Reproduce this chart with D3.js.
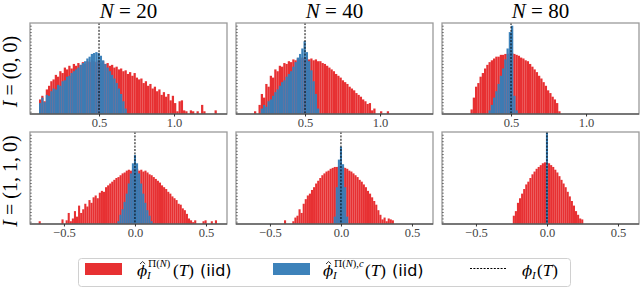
<!DOCTYPE html>
<html><head><meta charset="utf-8">
<script src="https://cdn.jsdelivr.net/npm/d3@7"></script>
<style>body{margin:0;background:#fff} svg{display:block}</style>
</head><body><svg id="c" width="640" height="288"></svg>
<script>
// ---------------- data ----------------
const columnTitles = ["20", "40", "80"];
const rowLabels = ["(0, 0)", "(1, 1, 0)"];
const topTicks = [0.5, 1.0];
const bottomTicks = [-0.5, 0.0, 0.5];
const trueValues = [0.5, 0.0];

// top row (I = (0,0)), bin width 0.015, heights in % of axis height
const topBinWidth = 0.015;
const redTopStart = [0.1, 0.16, 0.23];
const blueTopStart = [0.1, 0.19, 0.35];
const redTopN20 = [16,20,14,27,31,36,38,43,41,47,45,51,49,53,50,55,53,56,54,57,55,58,57,59,58,57,59,56,58,55,56,53,54,51,52,49,50,47,48,44,46,42,45,40,38,39,34,36,31,33,28,30,25,27,21,24,19,22,15,20,12,3,14,15,4,3,0,4,3,0,3,0,10,3,0,0,0,0,4];
const blueTopN20 = [12,18,13,21,20,25,28,27,32,31,36,37,41,42,45,47,49,51,54,56,58,61,63,66,67,68,67,64,59,55,51,47,43,39,34,28,22,14,6];
const redTopN40 = [3,0,10,22,18,33,30,42,40,49,47,53,52,56,55,58,57,60,59,61,60,62,61,62,60,61,59,60,58,58,56,55,53,51,49,47,44,42,40,37,35,33,30,28,26,23,21,19,16,14,11,12,4,6,0,0,3,0,0,3];
const blueTopN40 = [0,6,10,8,14,16,20,24,27,31,35,37,41,44,47,52,57,62,66,72,80,68,58,48,36,22,6];
const redTopN80 = [5,18,30,34,41,45,50,54,57,59,61,63,63,65,65,66,66,67,67,66,65,64,62,61,59,58,55,52,49,46,42,39,35,31,26,23,19,16,12,3];
const blueTopN80 = [4,10,18,25,33,42,50,60,72,90,97,20,4];

// bottom row (I = (1,1,0)), bin width 0.0146
const bottomBinWidth = 0.0146;
const redBottomStart = [-0.678, -0.401, -0.2406];
const blueBottomStart = [-0.124, -0.051, -0.0073];
const redBottomN20 = [3,0,0,0,0,0,0,0,0,0,0,5,0,4,12,3,6,14,8,20,12,16,22,19,26,23,29,31,28,34,36,35,40,42,44,46,48,50,51,53,55,56,58,59,58,60,59,60,58,59,57,58,56,54,53,51,49,47,45,42,40,38,35,33,30,28,26,22,21,17,15,11,6,4,2,4,0,0,0,3,4,0,0,3,0,4];
const blueBottomN20 = [3,10,16,24,33,44,55,66,75,66,55,44,33,23,15,9,3];
const redBottomN40 = [4,0,0,0,3,7,9,16,12,22,27,31,33,37,40,44,47,50,53,55,57,58,60,61,62,62,63,63,62,61,60,58,57,55,53,51,48,46,43,40,36,33,29,25,21,15,10,5,7,3,6,5,4];
const blueBottomN40 = [8,40,70,84,65,40,8];
const redBottomN80 = [9,14,23,28,33,38,43,46,50,54,57,60,62,64,66,67,67,66,64,62,59,56,52,48,44,40,35,30,25,20,14,10,6,5];
const blueBottomN80 = [120];

// ---------------- layout ----------------
const svg = d3.select("#c");
const panelX = [30, 236, 442];
const panelW = 197;
const rows = [
  {y: 23, h: 91, domain: [0.04, 1.353], ticks: topTicks, tv: trueValues[0], bw: topBinWidth,
   red: [redTopN20, redTopN40, redTopN80], blue: [blueTopN20, blueTopN40, blueTopN80],
   redStart: redTopStart, blueStart: blueTopStart},
  {y: 132, h: 92, domain: [-0.739, 0.648], ticks: bottomTicks, tv: trueValues[1], bw: bottomBinWidth,
   red: [redBottomN20, redBottomN40, redBottomN80], blue: [blueBottomN20, blueBottomN40, blueBottomN80],
   redStart: redBottomStart, blueStart: blueBottomStart}
];
const RED = "#e41a1c", BLUE = "#377eb8";
const serif = "'Liberation Serif', serif";
const greek = "'DejaVu Serif', serif";
const sans = "'DejaVu Sans', sans-serif";

const defs = svg.append("defs");
const fmt = v => (v < 0 ? "\u2212" : "") + Math.abs(v).toFixed(1);

rows.forEach((row, r) => {
  panelX.forEach((px, c) => {
    const x = d3.scaleLinear().domain(row.domain).range([px, px + panelW]);
    const y = d3.scaleLinear().domain([0, 100]).range([row.y + row.h, row.y]);
    const id = `clip${r}${c}`;
    defs.append("clipPath").attr("id", id).append("rect")
      .attr("x", px).attr("y", row.y).attr("width", panelW).attr("height", row.h);
    const g = svg.append("g").attr("clip-path", `url(#${id})`);

    const drawBars = (vals, start, color, op) => {
      const bins = vals.map((v, i) => ({x0: start + i * row.bw, x1: start + (i + 1) * row.bw, v}))
        .filter(d => d.v > 0);
      g.append("g").selectAll("rect").data(bins).join("rect")
        .attr("x", d => x(d.x0)).attr("width", d => x(d.x1) - x(d.x0))
        .attr("y", d => y(d.v)).attr("height", d => y(0) - y(d.v))
        .attr("fill", color).attr("fill-opacity", op);
    };
    drawBars(row.red[c], row.redStart[c], RED, 0.9);
    drawBars(row.blue[c], row.blueStart[c], BLUE, 0.97);

    g.append("line").attr("x1", x(row.tv)).attr("x2", x(row.tv))
      .attr("y1", row.y).attr("y2", row.y + row.h)
      .attr("stroke", "#000").attr("stroke-width", 1).attr("stroke-dasharray", "2,1.4");

    // frame
    svg.append("rect").attr("x", px).attr("y", row.y).attr("width", panelW).attr("height", row.h)
      .attr("fill", "none").attr("stroke", "#9a9a9a").attr("stroke-width", 1.3);
    svg.append("line").attr("x1", px).attr("x2", px + panelW).attr("y1", row.y + row.h).attr("y2", row.y + row.h)
      .attr("stroke", "#333").attr("stroke-width", 1.2);
    svg.append("g").selectAll("line").data(d3.range(2, 100, 3.5)).join("line")
      .attr("x1", px).attr("x2", px + 1.8).attr("y1", d => y(d)).attr("y2", d => y(d))
      .attr("stroke", "#444").attr("stroke-width", 0.7);

    // x axis
    const ax = svg.append("g").attr("transform", `translate(0,${row.y + row.h})`)
      .call(d3.axisBottom(x).tickValues(row.ticks).tickSize(2.5).tickPadding(2).tickFormat(fmt));
    ax.select(".domain").remove();
    ax.selectAll("line").attr("stroke", "#333");
    ax.selectAll("text").attr("font-family", serif).attr("font-size", 12.5).attr("fill", "#444");

    if (r === 0) {
      const t = svg.append("text").attr("x", px + panelW / 2).attr("y", 18)
        .attr("text-anchor", "middle").attr("font-family", serif).attr("font-size", 21);
      t.append("tspan").attr("font-style", "italic").text("N");
      t.append("tspan").text(" = " + columnTitles[c]);
    }
    if (c === 0) {
      const t = svg.append("text")
        .attr("transform", `translate(17,${row.y + row.h / 2 + 3}) rotate(-90)`)
        .attr("text-anchor", "middle").attr("font-family", serif).attr("font-size", 20);
      t.append("tspan").attr("font-style", "italic").text("I");
      t.append("tspan").text(" = " + rowLabels[r]);
    }
  });
});

// ---------------- legend ----------------
const lg = svg.append("g");
lg.append("rect").attr("x", 78.5).attr("y", 258.5).attr("width", 492).attr("height", 28).attr("rx", 3)
  .attr("fill", "#fff").attr("stroke", "#d0d0d0").attr("stroke-width", 1);
lg.append("rect").attr("x", 85).attr("y", 263).attr("width", 37).attr("height", 12).attr("fill", RED).attr("fill-opacity", 0.9);
lg.append("rect").attr("x", 273).attr("y", 263).attr("width", 37).attr("height", 12).attr("fill", BLUE).attr("fill-opacity", 0.97);
lg.append("line").attr("x1", 470).attr("x2", 507).attr("y1", 268.5).attr("y2", 268.5)
  .attr("stroke", "#000").attr("stroke-width", 1).attr("stroke-dasharray", "2,1.4");

function mathLabel(x0, sup) {
  const base = 276;
  lg.append("text").attr("x", x0).attr("y", base).attr("font-family", greek).attr("font-size", 15)
    .attr("font-style", "italic").text("\u03D5");
  lg.append("path").attr("d", `M${x0 + 3},${base - 12} l2.6,-2.4 l2.6,2.4`)
    .attr("fill", "none").attr("stroke", "#000").attr("stroke-width", 0.8);
  lg.append("text").attr("x", x0 + 10).attr("y", base + 3).attr("font-family", serif).attr("font-size", 11)
    .attr("font-style", "italic").text("I");
  const s = lg.append("text").attr("x", x0 + 11).attr("y", base - 9).attr("font-family", serif).attr("font-size", 10.5);
  s.append("tspan").attr("font-family", greek).attr("font-size", 9.5).text("\u03A0");
  s.append("tspan").text("(");
  s.append("tspan").attr("font-style", "italic").text("N");
  s.append("tspan").text(")");
  if (sup) { s.append("tspan").text(","); s.append("tspan").attr("font-style", "italic").text("c"); }
  const w = sup ? 32 : 26;
  const p = lg.append("text").attr("x", x0 + 10 + w).attr("y", base).attr("font-family", serif).attr("font-size", 17);
  p.append("tspan").text("(");
  p.append("tspan").attr("font-style", "italic").text("T");
  p.append("tspan").text(")");
  lg.append("text").attr("x", x0 + 10 + w + 27).attr("y", base).attr("font-family", sans).attr("font-size", 16)
    .text("(iid)");
}
mathLabel(137, "");
mathLabel(323, ",c");

lg.append("text").attr("x", 522).attr("y", 276).attr("font-family", greek).attr("font-size", 15)
  .attr("font-style", "italic").text("\u03D5");
lg.append("text").attr("x", 532).attr("y", 279).attr("font-family", serif).attr("font-size", 11)
  .attr("font-style", "italic").text("I");
const l3 = lg.append("text").attr("x", 537).attr("y", 276).attr("font-family", serif).attr("font-size", 17);
l3.append("tspan").text("(");
l3.append("tspan").attr("font-style", "italic").text("T");
l3.append("tspan").text(")");
</script>
</body></html>
